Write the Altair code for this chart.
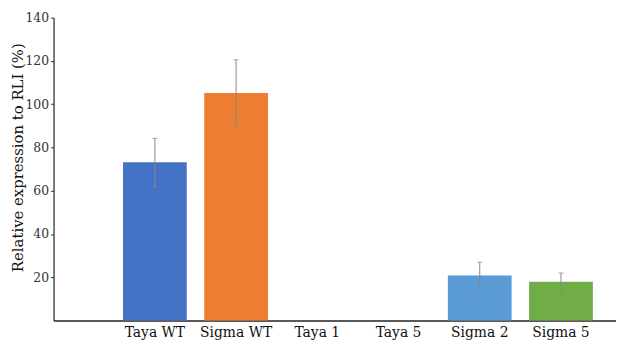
import altair as alt
import pandas as pd

categories = ["Taya WT", "Sigma WT", "Taya 1", "Taya 5", "Sigma 2", "Sigma 5"]
values = [73.2, 105.2, 0, 0, 20.8, 17.9]
err_low = [61.8, 90.0, None, None, 14.6, 13.7]
err_high = [84.2, 120.5, None, None, 27.0, 22.0]
colors = ["#4472C4", "#ED7D31", "#A5A5A5", "#FFC000", "#5B9BD5", "#70AD47"]

SERIF = "DejaVu Serif"

df = pd.DataFrame({"cat": categories, "val": values, "lo": err_low, "hi": err_high})
edf = df.dropna()

x = alt.X("cat:N", sort=categories, title=None,
          scale=alt.Scale(paddingInner=0.215, paddingOuter=0.57, align=0.75),
          axis=alt.Axis(labelAngle=0, labelFont=SERIF, labelFontSize=14,
                        labelColor="#111", ticks=False, domainColor="#222",
                        domainWidth=1.5, labelPadding=5))

bars = alt.Chart(df).mark_bar().encode(
    x=x,
    y=alt.Y("val:Q", scale=alt.Scale(domain=[0, 140], nice=False),
            title="Relative expression to RLI (%)",
            axis=alt.Axis(values=[20, 40, 60, 80, 100, 120, 140], grid=False,
                          labelFont=SERIF, labelFontSize=12.5, labelColor="#333",
                          tickSize=3, tickColor="#333", labelPadding=2,
                          domainColor="#222", domainWidth=1.2,
                          titleFont=SERIF, titleFontSize=15,
                          titleFontWeight="normal", titleColor="#111",
                          titleX=-36, titleY=141, titleAngle=270, titleAlign="center",
                          titleBaseline="middle")),
    color=alt.Color("cat:N", sort=categories, legend=None,
                    scale=alt.Scale(domain=categories, range=colors)),
)

rules = alt.Chart(edf).mark_rule(color="#888", strokeWidth=1).encode(
    x=alt.X("cat:N", sort=categories), y="lo:Q", y2="hi:Q")
caps_hi = alt.Chart(edf).mark_tick(color="#888", thickness=1, size=5).encode(
    x=alt.X("cat:N", sort=categories), y="hi:Q")
caps_lo = alt.Chart(edf).mark_tick(color="#888", thickness=1, size=5).encode(
    x=alt.X("cat:N", sort=categories), y="lo:Q")

chart = alt.layer(bars, rules, caps_hi, caps_lo).properties(
    width=568, height=306,
    autosize=alt.AutoSizeParams(type="none"),
    padding={"left": 46, "top": 8, "right": 0, "bottom": 30},
    background="white",
).configure(font=SERIF).configure_view(stroke=None)

chart.save("out.html", embed_options={"renderer": "svg", "actions": False})
